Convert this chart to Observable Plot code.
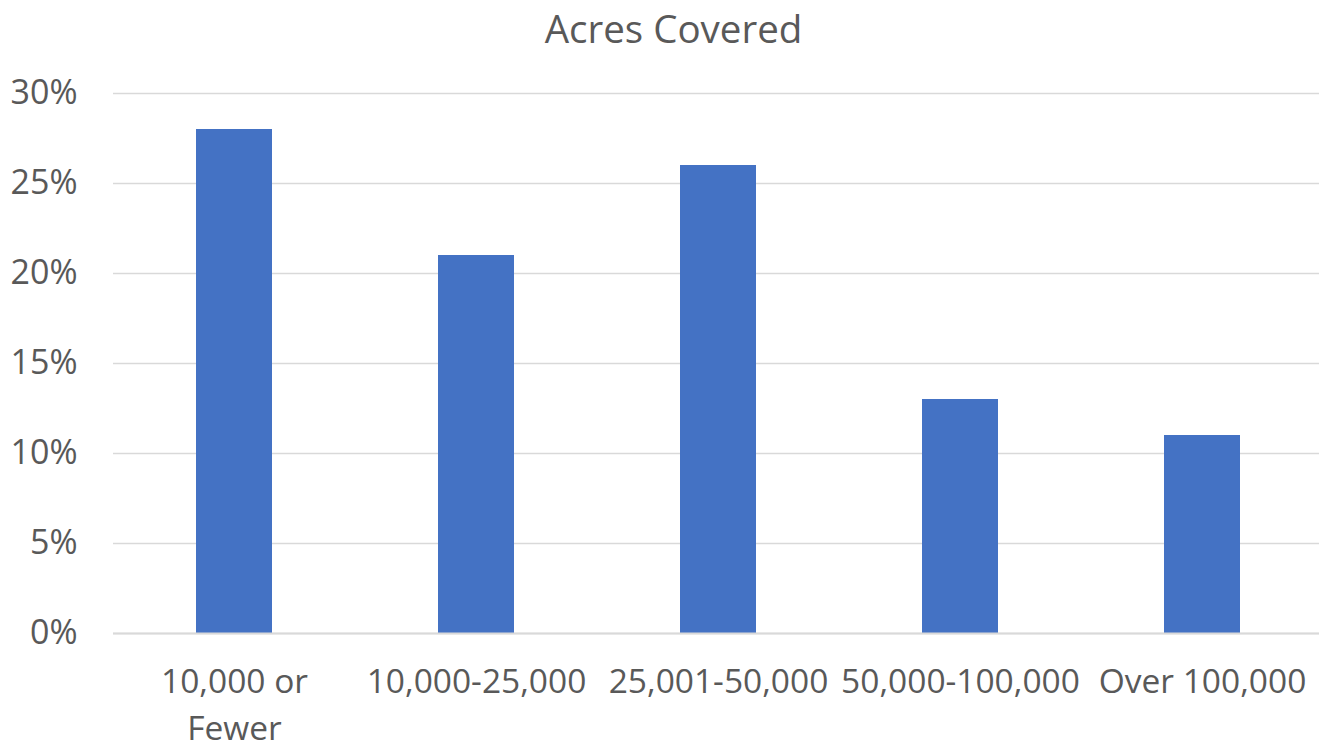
<!DOCTYPE html>
<html>
<head>
<meta charset="utf-8">
<script src="https://cdn.jsdelivr.net/npm/d3@7"></script>
<script src="https://cdn.jsdelivr.net/npm/@observablehq/plot@0.6"></script>
<style>
  html, body { margin: 0; padding: 0; background: #fff; overflow: hidden; }
  #title { height: 60px; line-height: 56px; text-align: center; font-family: "Open Sans", sans-serif; font-size: 38.5px; color: #595959; padding-left: 28px; box-sizing: border-box; width: 1319px; }
</style>
</head>
<body>
<div id="title">Acres Covered</div>
<div id="chart"></div>
<script>
const categories = ["10,000 or Fewer", "10,000-25,000", "25,001-50,000", "50,000-100,000", "Over 100,000"];
const tickLabels = ["10,000 or\nFewer", "10,000-25,000", "25,001-50,000", "50,000-100,000", "Over 100,000"];
const values = [28, 21, 26, 13, 11];
const yTicks = [0, 5, 10, 15, 20, 25, 30];

const data = categories.map((c, i) => ({category: c, value: values[i]}));
const labelOf = new Map(categories.map((c, i) => [c, tickLabels[i]]));

const chart = Plot.plot({
  width: 1319,
  height: 681,
  marginTop: 33,
  marginBottom: 108,
  marginLeft: 113,
  marginRight: -4,
  style: {fontFamily: "'Open Sans', sans-serif", color: "#595959", background: "#fff", overflow: "visible"},
  x: {domain: categories, padding: 0, label: null},
  y: {domain: [0, 30], label: null},
  marks: [
    Plot.gridY(yTicks, {stroke: "#d9d9d9", strokeOpacity: 1, strokeWidth: 1.5}),
    Plot.barY(data, {x: "category", y: "value", fill: "#4472C4", insetLeft: 83, insetRight: 83}),
    Plot.ruleY([0], {stroke: "#d9d9d9", strokeWidth: 2}),
    Plot.axisY({ticks: yTicks, tickSize: 0, tickPadding: 36, fontSize: 34, tickFormat: d => d + "%", fill: "#595959", label: null}),
    Plot.axisX({tickSize: 0, tickPadding: 27, fontSize: 33.5, lineHeight: 1.38, tickFormat: d => labelOf.get(d), fill: "#595959", lineWidth: 100, label: null})
  ]
});
document.getElementById("chart").appendChild(chart);
</script>
</body>
</html>
